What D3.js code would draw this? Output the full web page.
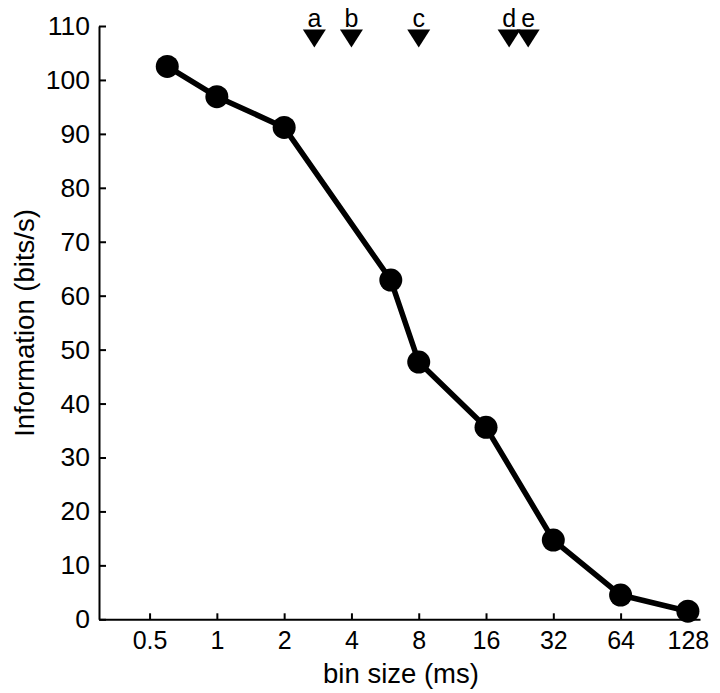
<!DOCTYPE html>
<html><head><meta charset="utf-8">
<script src="https://cdn.jsdelivr.net/npm/d3@7/dist/d3.min.js"></script>
<style>body{margin:0;background:#fff;} text{font-family:"Liberation Sans",Arial,Helvetica,sans-serif;fill:#000;}</style>
</head><body>
<svg id="c" width="720" height="693"></svg>
<script>
const binSizes = [0.6, 1, 2, 6, 8, 16, 32, 64, 128];
const information = [102.5, 96.9, 91.2, 62.9, 47.7, 35.6, 14.7, 4.5, 1.5];
const xTicks = [0.5, 1, 2, 4, 8, 16, 32, 64, 128];
const yTicks = [0, 10, 20, 30, 40, 50, 60, 70, 80, 90, 100, 110];
const markerLabels = ["a", "b", "c", "d", "e"];
const markerBins = [2.73, 4, 8, 20.3, 24.7];

const svg = d3.select("#c");
const x = d3.scaleLog().base(2).domain([0.297, 145]).range([99, 700]);
const y = d3.scaleLinear().domain([0, 110]).range([619.3, 26]);

// axes
const xAxis = svg.append("g").attr("transform", "translate(0,619.3)")
  .call(d3.axisBottom(x).tickValues(xTicks).tickSizeInner(-6).tickSizeOuter(0).tickPadding(14).tickFormat(d => String(d)));
xAxis.select(".domain").attr("stroke-width", 2);
xAxis.selectAll(".tick line").attr("stroke-width", 2);
xAxis.selectAll("text").attr("font-size", 25).attr("dy", "0").attr("y", 30);

const yAxis = svg.append("g").attr("transform", "translate(99,0)")
  .call(d3.axisLeft(y).tickValues(yTicks).tickSizeInner(-7).tickSizeOuter(0).tickPadding(9));
yAxis.select(".domain").attr("stroke-width", 2);
yAxis.selectAll(".tick line").attr("stroke-width", 2);
yAxis.selectAll("text").attr("font-size", 26.5).attr("x", -9);
svg.selectAll(".domain").attr("stroke", "#000");
svg.selectAll(".tick line").attr("stroke", "#000");

// line
svg.append("path").datum(binSizes.map((b, i) => [b, information[i]]))
  .attr("fill", "none").attr("stroke", "#000").attr("stroke-width", 5.5).attr("stroke-linejoin", "round")
  .attr("d", d3.line().x(d => x(d[0])).y(d => y(d[1])));
svg.selectAll("circle.pt").data(binSizes).join("circle").attr("class", "pt")
  .attr("cx", d => x(d)).attr("cy", (d, i) => y(information[i])).attr("r", 11.5).attr("fill", "#000");

// markers
const mk = svg.selectAll("g.mk").data(markerBins).join("g").attr("class", "mk")
  .attr("transform", d => `translate(${x(d)},0)`);
mk.append("path").attr("d", "M-11.5,29.5 L11.5,29.5 L0,47.5 Z").attr("fill", "#000");
mk.append("text").attr("y", 27).attr("text-anchor", "middle").attr("font-size", 25)
  .text((d, i) => markerLabels[i]);

// axis titles
svg.append("text").attr("x", 401).attr("y", 683).attr("text-anchor", "middle").attr("font-size", 27.5).text("bin size (ms)");
svg.append("text").attr("transform", "translate(34,323) rotate(-90)").attr("text-anchor", "middle").attr("font-size", 27.5).text("Information (bits/s)");
</script>
</body></html>
